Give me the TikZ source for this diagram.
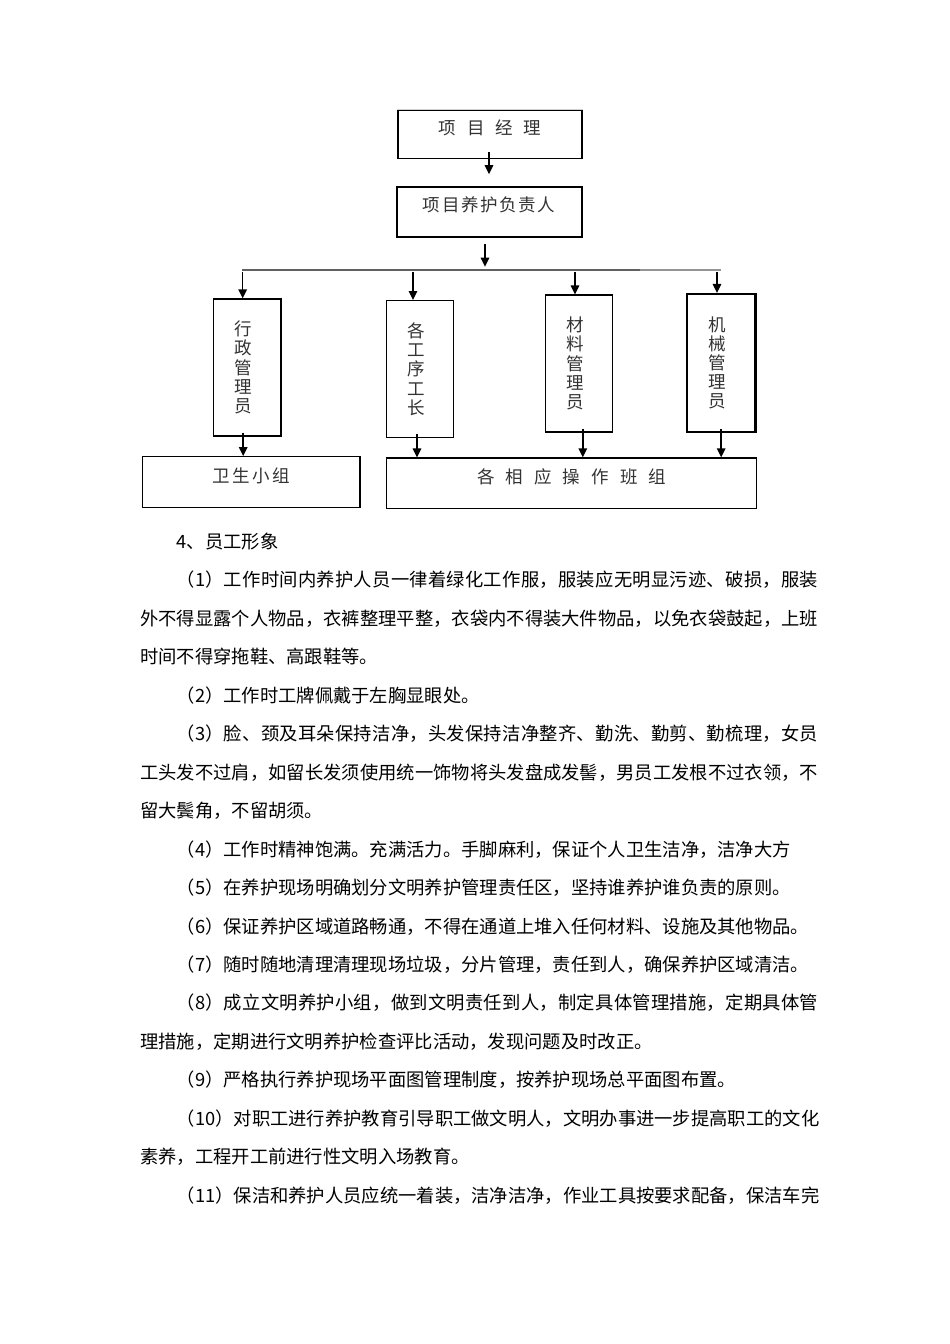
\documentclass[tikz,border=0pt]{standalone}
\usepackage{fontspec}
\IfFontExistsTF{FandolSong-Regular.otf}{\setmainfont{FandolSong-Regular.otf}}{\setmainfont{Noto Sans CJK SC}}
\usetikzlibrary{arrows.meta}
\XeTeXinterchartokenstate=1
\newXeTeXintercharclass\cjkcls
\newcount\cjkc
\newcommand\setcjkrange[2]{\cjkc=#1\relax\loop\XeTeXcharclass\cjkc=\cjkcls\advance\cjkc by 1\relax\ifnum\cjkc<#2\relax\repeat}
\setcjkrange{"3000}{"3040}
\setcjkrange{"4E00}{"A000}
\setcjkrange{"FF00}{"FFF0}
\XeTeXinterchartoks\cjkcls\cjkcls={\hskip0pt plus 1pt\relax}
\newcommand\bxfont{\fontsize{17.5}{19.2}\selectfont}
\newcommand\bodyfont{\fontsize{18.3}{22}\selectfont}
\newcommand\hbx[2]{\raisebox{0pt}[0pt][0pt]{\makebox[#1pt][s]{#2}}}
\newcommand\jl[2]{\makebox[#1pt][s]{#2}}
\newcommand\vl[1]{\kern-8pt#1}
\tikzset{
  box/.style={draw, line width=1.3pt, inner sep=0pt, text=black!80, font=\bxfont},
  vbox/.style={box, align=center},
  arr/.style={line width=1.5pt, -{Triangle[length=9pt,width=8.5pt]}},
  bus/.style={line width=2.4pt},
  txt/.style={anchor=base west, inner sep=0pt, font=\bodyfont, text=black}
}
\begin{document}
\begin{tikzpicture}[x=1pt,y=-1pt]
\fill[white] (0,0) rectangle (950,1344);
\useasboundingbox (0,0) rectangle (950,1344);
% top boxes
\node[box, minimum width=184pt, minimum height=48.7pt] (pm) at (490,134.4) {\hbx{102.5}{项目经理}};
\draw[line width=1.4pt, black!18] (pm.north west) -- (pm.north east);
\node[box, line width=1.8pt, minimum width=185pt, minimum height=50pt] (resp) at (489.2,211.7) {\hbx{132.5}{项目养护负责人}};
% vertical boxes
\node[vbox, minimum width=67.7pt, minimum height=137pt] (v1) at (247.2,367.5) {\vl{行}\\\vl{政}\\\vl{管}\\\vl{理}\\\vl{员}};
\node[vbox, minimum width=66.6pt, minimum height=137pt] (v2) at (420,369.2) {\vl{各}\\\vl{工}\\\vl{序}\\\vl{工}\\\vl{长}};
\node[vbox, minimum width=67pt, minimum height=137pt] (v3) at (578.8,363.5) {\vl{材}\\\vl{料}\\\vl{管}\\\vl{理}\\\vl{员}};
\node[vbox, line width=2.4pt, minimum width=68.3pt, minimum height=137.7pt] (v4) at (721.2,362.9) {\vl{机}\\\vl{械}\\\vl{管}\\\vl{理}\\\vl{员}};
% bottom boxes
\node[box, minimum width=217.3pt, minimum height=51pt] (g1) at (251.35,482.2) {\hbx{77.5}{卫生小组}};
\node[box, minimum width=370pt, minimum height=50.7pt] (g2) at (571.7,483.35) {\hbx{189}{各相应操作班组}};
% bus line
\coordinate (busL) at (241.7,270);
\coordinate (busM) at (640,270);
\coordinate (busR) at (721,270);
\draw[bus, black!62] (busL) -- (busM);
\draw[bus, black!42] (busM) -- (busR);
% arrows
\draw[arr, shorten >=11.7pt] ([xshift=-1pt,yshift=7pt]pm.south) -- ([xshift=-1pt]pm.south |- resp.north);
\draw[arr, shorten >=3.3pt] ([xshift=-4.2pt,yshift=-6.3pt]resp.south) -- ([xshift=-4.2pt]resp.south |- busL);
\coordinate (d1) at (242.7,272);
\coordinate (d2) at (413,272);
\coordinate (d3) at (575,272);
\coordinate (d4) at (717,272);
\draw[arr] (d1) -- (d1 |- v1.north);
\draw[arr] (d2) -- (d2 |- v2.north);
\draw[arr] (d3) -- (d3 |- v3.north);
\draw[arr] (d4) -- (d4 |- v4.north);
\draw[arr] ([xshift=-4pt,yshift=4pt]v1.south) -- ([xshift=-4pt]v1.south |- g1.north);
\draw[arr] ([xshift=-3pt,yshift=4pt]v2.south) -- ([xshift=-3pt]v2.south |- g2.north);
\draw[arr] ([xshift=4pt,yshift=4pt]v3.south) -- ([xshift=4pt]v3.south |- g2.north);
\draw[arr] ([yshift=4pt]v4.south) -- (v4.south |- g2.north);
% body text
\node[txt] (t0) at (176.6,548.5) {4、员工形象};
\node[txt] (t1) at (176.6,586.95) {\jl{641.4}{（1）工作时间内养护人员一律着绿化工作服，服装应无明显污迹、破损，服装}};
\node[txt] (t2) at (140,625.4) {\jl{678}{外不得显露个人物品，衣裤整理平整，衣袋内不得装大件物品，以免衣袋鼓起，上班}};
\node[txt] (t3) at (140,663.85) {时间不得穿拖鞋、高跟鞋等。};
\node[txt] (t4) at (176.6,702.3) {（2）工作时工牌佩戴于左胸显眼处。};
\node[txt] (t5) at (176.6,740.75) {\jl{641.4}{（3）脸、颈及耳朵保持洁净，头发保持洁净整齐、勤洗、勤剪、勤梳理，女员}};
\node[txt] (t6) at (140,779.2) {\jl{678}{工头发不过肩，如留长发须使用统一饰物将头发盘成发髻，男员工发根不过衣领，不}};
\node[txt] (t7) at (140,817.65) {留大鬓角，不留胡须。};
\node[txt] (t8) at (176.6,856.1) {（4）工作时精神饱满。充满活力。手脚麻利，保证个人卫生洁净，洁净大方};
\node[txt] (t9) at (176.6,894.55) {（5）在养护现场明确划分文明养护管理责任区，坚持谁养护谁负责的原则。};
\node[txt] (t10) at (176.6,933) {（6）保证养护区域道路畅通，不得在通道上堆入任何材料、设施及其他物品。};
\node[txt] (t11) at (176.6,971.45) {（7）随时随地清理清理现场垃圾，分片管理，责任到人，确保养护区域清洁。};
\node[txt] (t12) at (176.6,1009.9) {\jl{641.4}{（8）成立文明养护小组，做到文明责任到人，制定具体管理措施，定期具体管}};
\node[txt] (t13) at (140,1048.35) {理措施，定期进行文明养护检查评比活动，发现问题及时改正。};
\node[txt] (t14) at (176.6,1086.8) {（9）严格执行养护现场平面图管理制度，按养护现场总平面图布置。};
\node[txt] (t15) at (176.6,1125.25) {\jl{641.4}{（10）对职工进行养护教育引导职工做文明人，文明办事进一步提高职工的文化}};
\node[txt] (t16) at (140,1163.7) {素养，工程开工前进行性文明入场教育。};
\node[txt] (t17) at (176.6,1202.15) {\jl{641.4}{（11）保洁和养护人员应统一着装，洁净洁净，作业工具按要求配备，保洁车完}};
\end{tikzpicture}
\end{document}
